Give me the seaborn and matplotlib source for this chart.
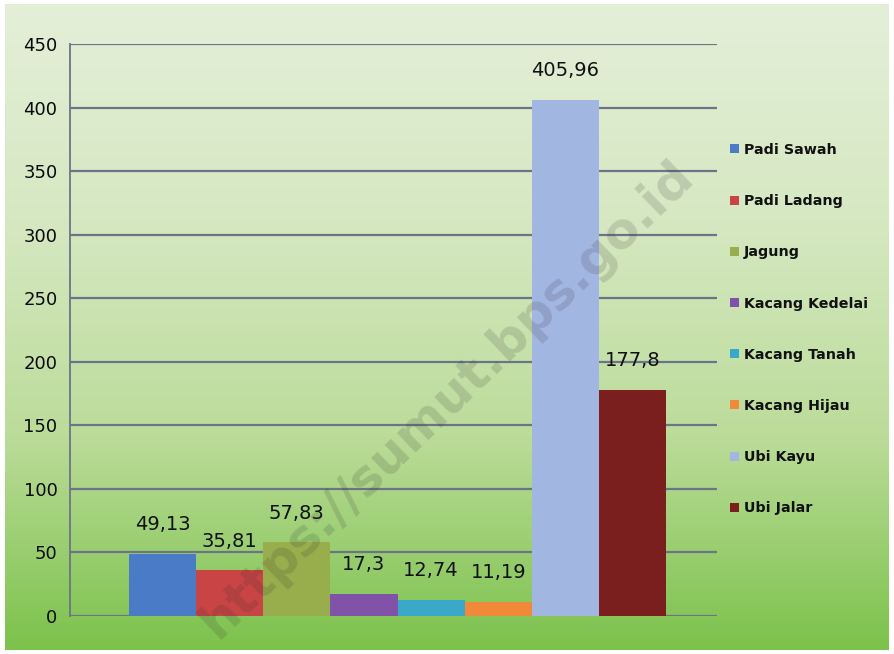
import numpy as np
import pandas as pd
import matplotlib
matplotlib.use("Agg")
import matplotlib.pyplot as plt
import seaborn as sns
from matplotlib.colors import LinearSegmentedColormap

# data
komoditas = ["Padi Sawah", "Padi Ladang", "Jagung", "Kacang Kedelai",
             "Kacang Tanah", "Kacang Hijau", "Ubi Kayu", "Ubi Jalar"]
nilai = [49.13, 35.81, 57.83, 17.3, 12.74, 11.19, 405.96, 177.8]
warna = ["#4a7bc6", "#c94444", "#98ad4c", "#8052a8",
         "#3aa8c8", "#f08a3a", "#a2b6e2", "#7a1e1e"]
y_ticks = [0, 50, 100, 150, 200, 250, 300, 350, 400, 450]

df = pd.DataFrame({"komoditas": komoditas, "nilai": nilai})

sns.set_style("white")
plt.rcParams["font.family"] = ["DejaVu Sans"]

fig = plt.figure(figsize=(8.94, 6.54), dpi=100)

# green gradient background
bg = fig.add_axes([0.006, 0.006, 0.988, 0.988], zorder=-10)
grad_cmap = LinearSegmentedColormap.from_list(
    "bg", ["#e4efd8", "#d6e8c2", "#bcdc9a", "#7cc24c"])
bg.imshow(np.linspace(0, 1, 256).reshape(-1, 1), aspect="auto",
          cmap=grad_cmap, extent=[0, 1, 0, 1])
bg.axis("off")

ax = fig.add_axes([70 / 894, 1 - 616 / 654, (717 - 70) / 894, (616 - 44) / 654])
ax.patch.set_alpha(0)

sns.barplot(data=df, x="komoditas", y="nilai", hue="komoditas",
            palette=warna, width=1.0, dodge=False, legend=True, ax=ax,
            saturation=1, zorder=3, linewidth=0)

ax.set_xlim(-1.38, 8.26)
ax.set_ylim(0, 450)
ax.set_yticks(y_ticks)
ax.set_yticklabels([str(t) for t in y_ticks], fontsize=13)
ax.set_xticks([])
ax.set_xlabel("")
ax.set_ylabel("")
for t in y_ticks:
    ax.axhline(t, color="#6c7488", lw=1.6, zorder=1)
for s in ["top", "right", "bottom"]:
    ax.spines[s].set_visible(False)
ax.spines["left"].set_color("#6c7488")
ax.spines["left"].set_linewidth(1.3)
ax.tick_params(axis="y", length=5, color="#6c7488", pad=4, labelcolor="#0a0a0a")

# value labels with comma decimals
for i, v in enumerate(nilai):
    ax.annotate(f"{v:g}".replace(".", ","), (i, v), xytext=(0, 21),
                textcoords="offset points", ha="center", va="center",
                fontsize=14, color="#111111", zorder=5)

leg = ax.legend(loc="upper left", bbox_to_anchor=(1.012, 0.837), frameon=False,
                fontsize=10.3, labelspacing=2.6, handlelength=0.6,
                handleheight=0.6, handletextpad=0.35, borderaxespad=0)
for txt in leg.get_texts():
    txt.set_fontweight("bold")
    txt.set_color("#111111")

# watermark
fig.text(0.5, 0.39, "https://sumut.bps.go.id", rotation=44,
         ha="center", va="center", fontsize=36, fontweight="bold",
         color="#303030", alpha=0.16)

fig.savefig("out.png", dpi=100)
